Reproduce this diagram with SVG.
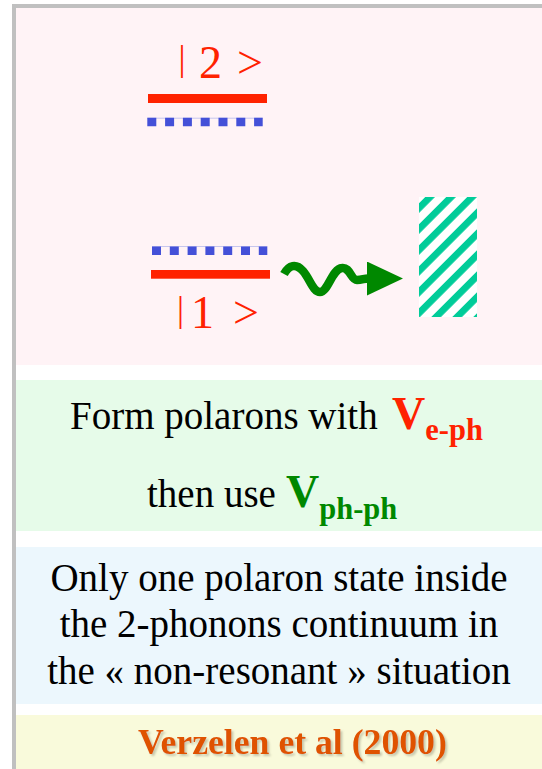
<svg xmlns="http://www.w3.org/2000/svg" width="542" height="769" viewBox="0 0 542 769">
<style>
.serif{font-family:"Liberation Serif","Times New Roman",serif;}
.lvl{font-size:46px;fill:#ff2200;}
.bar{fill:#ff2200;}
.dots{stroke:#4450d8;stroke-width:8.6;stroke-dasharray:9 8.8;fill:none;}
.faint{stroke:#c6c6ee;stroke-width:1;}
.body{font-size:39px;fill:#000;}
.bigV{font-size:46px;font-weight:bold;}
.sub{font-size:30.5px;font-weight:bold;}
</style>
<defs>
<pattern id="hatch" patternUnits="userSpaceOnUse" width="14.85" height="14.85" patternTransform="rotate(45) translate(9.4 0)">
<rect x="0" y="0" width="6.8" height="14.85" fill="#00cc99"/>
</pattern>
<marker id="head" markerUnits="userSpaceOnUse" markerWidth="36" markerHeight="34" viewBox="0 0 35 33" refX="1" refY="16.5" orient="auto">
<path d="M0,0 L35,16.5 L0,33 Z" fill="#008800"/>
</marker>
<filter id="shadow" x="-5%" y="-20%" width="110%" height="150%">
<feDropShadow dx="2" dy="2" stdDeviation="0.9" flood-color="#888870" flood-opacity="0.45"/>
</filter>
</defs>

<rect x="0" y="0" width="542" height="769" fill="#ffffff"/>

<g id="frame">
<rect x="12" y="4" width="530" height="4" fill="#c0c0c0"/>
<rect x="12" y="4" width="4" height="765" fill="#c0c0c0"/>
</g>

<g id="diagram-panel">
<rect x="16" y="8" width="526" height="357" fill="#fff3f6"/>
</g>

<g id="level2">
<rect class="bar" x="148" y="94" width="119" height="9"/>
<line class="faint" x1="147.3" y1="118.2" x2="262.7" y2="118.2"/>
<line class="dots" x1="147.3" y1="122" x2="262.7" y2="122"/>
<text class="serif lvl"><tspan x="178.5" y="70.3" font-size="35">|</tspan><tspan x="199" y="78">2</tspan><tspan x="237" y="78">&gt;</tspan></text>
</g>

<g id="level1">
<line class="faint" x1="152" y1="246.5" x2="267.3" y2="246.5"/>
<line class="dots" x1="152" y1="250.7" x2="267.3" y2="250.7"/>
<rect class="bar" x="151" y="270" width="119" height="8.7"/>
<text class="serif lvl"><tspan x="177" y="320.6" font-size="35">|</tspan><tspan x="191" y="328.3">1</tspan><tspan x="233" y="328.3">&gt;</tspan></text>
</g>

<g id="continuum">
<rect x="419" y="197" width="58" height="120" fill="#ffffff"/>
<rect x="419" y="197" width="58" height="120" fill="url(#hatch)"/>
</g>

<g id="connectors">
<path d="M284,274 C289,265 296,263 303,271 C310,279 313,292 320,292 C328,292 332,269 342,268 C350,267 351,280 357,280 C362,280 364,278.5 368,278.5" fill="none" stroke="#008800" stroke-width="8.5" marker-end="url(#head)"/>
</g>

<g id="polaron-panel">
<rect x="16" y="380" width="526" height="151" fill="#e6fbe9"/>
<text class="serif body"><tspan x="70" y="428.5">Form polarons with </tspan><tspan class="bigV" x="392" y="428.5" fill="#ff2200">V</tspan><tspan class="sub" fill="#ff2200" dy="11">e-ph</tspan></text>
<text class="serif body"><tspan x="147" y="507">then use </tspan><tspan class="bigV" x="286" y="507" fill="#008800">V</tspan><tspan class="sub" fill="#008800" dy="12">ph-ph</tspan></text>
</g>

<g id="state-panel">
<rect x="16" y="547" width="526" height="157" fill="#ecf7fd"/>
<text class="serif body" text-anchor="middle"><tspan x="279" y="590.5">Only one polaron state inside</tspan><tspan x="279" y="637">the 2-phonons continuum in</tspan><tspan x="279" y="683.5">the « non-resonant » situation</tspan></text>
</g>

<g id="reference-panel">
<rect x="16" y="715" width="526" height="54" fill="#f9fadb"/>
<text class="serif" x="138" y="754.3" font-size="35.7" font-weight="bold" fill="#df5206" filter="url(#shadow)">Verzelen et al (2000)</text>
</g>
</svg>
